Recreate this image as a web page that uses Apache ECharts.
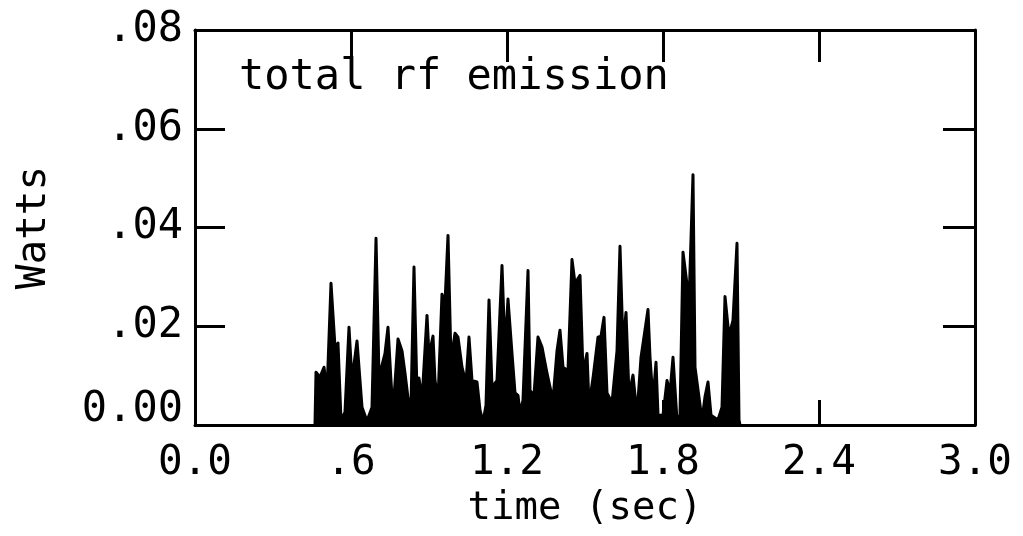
<!DOCTYPE html>
<html>
<head>
<meta charset="utf-8">
<script src="https://cdn.jsdelivr.net/npm/echarts@6/dist/echarts.min.js"></script>
<style>html,body{margin:0;padding:0;background:#fff;}#c{width:1023px;height:536px;}</style>
</head>
<body>
<div id="c"></div>
<script>
// time (sec)
const times = [0.4615,0.4654,0.4808,0.4962,0.5077,0.5231,0.5385,0.5500,0.5615,0.5769,
0.5923,0.6038,0.6231,0.6346,0.6423,0.6615,0.6808,0.6962,0.7077,0.7308,
0.7423,0.7538,0.7615,0.7808,0.7962,0.8077,0.8192,0.8308,0.8423,0.8538,
0.8615,0.8731,0.8923,0.9000,0.9154,0.9231,0.9346,0.9500,0.9615,0.9731,
0.9846,1.0000,1.0115,1.0269,1.0423,1.0538,1.0654,1.0846,1.0962,1.1077,
1.1192,1.1308,1.1423,1.1615,1.1808,1.1923,1.2038,1.2192,1.2308,1.2423,
1.2500,1.2615,1.2808,1.2885,1.3038,1.3192,1.3346,1.3538,1.3654,1.3769,
1.3923,1.4038,1.4154,1.4346,1.4500,1.4615,1.4808,1.4923,1.5077,1.5154,
1.5308,1.5500,1.5615,1.5731,1.5846,1.6038,1.6231,1.6346,1.6462,1.6577,
1.6692,1.6846,1.7000,1.7154,1.7423,1.7500,1.7615,1.7731,1.7808,1.8000,
1.8154,1.8269,1.8385,1.8538,1.8654,1.8769,1.8923,1.9000,1.9154,1.9231,
1.9500,1.9615,1.9731,1.9846,2.0115,2.0269,2.0385,2.0538,2.0692,2.0846,
2.0923,2.0962];
// power (Watts)
const watts = [0,0.0107,0.0097,0.0117,0.0065,0.0287,0.0158,0.0166,0.001,0.0026,
0.0198,0.009,0.017,0.009,0.0036,0.0008,0.0036,0.0378,0.0097,0.0145,
0.0198,0.009,0.0026,0.0174,0.015,0.0105,0.0055,0.004,0.032,0.0065,
0.0095,0.005,0.0222,0.014,0.018,0.009,0.005,0.0265,0.0246,0.0384,
0.013,0.0186,0.0178,0.0117,0.0085,0.0178,0.009,0.0087,0.003,0.0006,
0.004,0.0253,0.0077,0.009,0.0323,0.015,0.0255,0.0145,0.0065,0.006,
0.0024,0.005,0.0313,0.007,0.006,0.0178,0.0158,0.0105,0.0077,0.005,
0.015,0.0192,0.0117,0.011,0.0335,0.0287,0.0303,0.0105,0.0145,0.004,
0.0095,0.0178,0.018,0.0218,0.0065,0.0045,0.015,0.0362,0.016,0.0228,
0.006,0.0101,0.002,0.0137,0.0234,0.0137,0.005,0.0127,0.002,0.002,
0.009,0.0065,0.0137,0.001,0.002,0.035,0.0285,0.0245,0.0507,0.0117,
0.001,0.0057,0.0087,0.002,0.001,0.0036,0.026,0.018,0.0212,0.0368,
0.001,0];
const titleText = 'total rf emission';
const xName = 'time (sec)';
const yName = 'Watts';

const FONT = 'DejaVu Sans Mono';
const data = times.map((t, i) => [t, watts[i]]);
const xFmt = v => { if (v === 0) return '0.0'; let s = v.toFixed(1); return s.startsWith('0.') ? s.slice(1) : s; };
const yFmt = v => v === 0 ? '{z|0.00}' : v.toFixed(2).replace(/^0/, '');
const axLine = {show: true, onZero: false, lineStyle: {color: '#000', width: 3}};
const tickIn = len => ({show: true, inside: true, length: len, lineStyle: {color: '#000', width: 3}});

const chart = echarts.init(document.getElementById('c'));
chart.setOption({
  animation: false,
  backgroundColor: '#fff',
  title: {text: titleText, left: 234, top: 52,
    textStyle: {fontFamily: FONT, fontSize: 42, fontWeight: 'normal', color: '#000'}},
  grid: {left: 195, right: 48, top: 30, bottom: 111, containLabel: false},
  xAxis: [{
    type: 'value', min: 0, max: 3, interval: 0.6, position: 'bottom',
    axisLine: axLine, axisTick: tickIn(25), splitLine: {show: false},
    axisLabel: {formatter: xFmt, fontFamily: FONT, fontSize: 41, color: '#000', margin: 18},
    name: xName, nameLocation: 'middle', nameGap: 62,
    nameTextStyle: {fontFamily: FONT, fontSize: 39, color: '#000'}
  }, {
    type: 'value', min: 0, max: 3, interval: 0.6, position: 'top',
    axisLine: axLine, axisTick: tickIn(32), splitLine: {show: false}, axisLabel: {show: false}
  }],
  yAxis: [{
    type: 'value', min: 0, max: 0.08, interval: 0.02, position: 'left',
    axisLine: axLine, axisTick: tickIn(30), splitLine: {show: false},
    axisLabel: {formatter: yFmt, fontFamily: FONT, fontSize: 42, color: '#000', margin: 12,
      rich: {z: {fontFamily: FONT, fontSize: 42, color: '#000', padding: [0, 0, 30, 0]}}},
    name: yName, nameLocation: 'middle', nameGap: 140,
    nameTextStyle: {fontFamily: FONT, fontSize: 41, color: '#000'}
  }, {
    type: 'value', min: 0, max: 0.08, interval: 0.02, position: 'right',
    axisLine: axLine, axisTick: tickIn(32), splitLine: {show: false}, axisLabel: {show: false}
  }],
  series: [{
    type: 'line', data: data, xAxisIndex: 0, yAxisIndex: 0,
    showSymbol: false, symbol: 'none',
    lineStyle: {color: '#000', width: 3, join: 'round'},
    areaStyle: {color: '#000', opacity: 1}
  }]
});
</script>
</body>
</html>
